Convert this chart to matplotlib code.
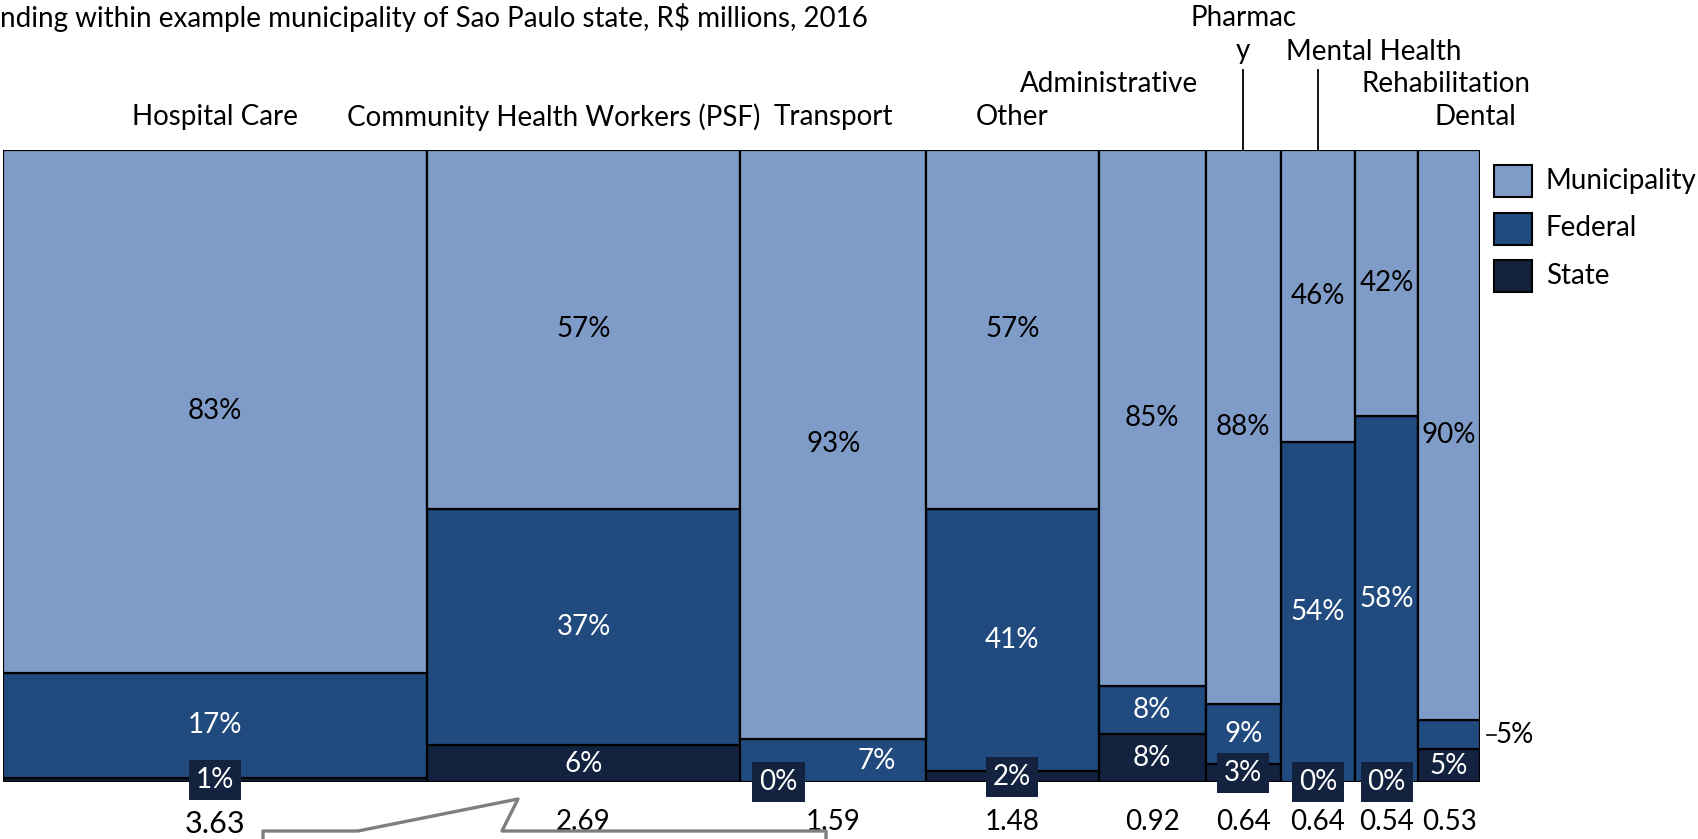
import numpy as np
import matplotlib.pyplot as plt
from matplotlib.patches import Rectangle

plt.rcParams['font.family'] = ['Lato', 'DejaVu Sans']

# Spending per category (R$ millions) and funding split (%)
categories = ["Hospital Care", "Community Health Workers (PSF)", "Transport", "Other",
              "Administrative", "Pharmac\ny", "Mental Health", "Rehabilitation", "Dental"]
totals = [3.63, 2.69, 1.59, 1.48, 0.92, 0.64, 0.64, 0.54, 0.53]
municipality = [82.7, 56.8, 93.2, 56.8, 84.8, 87.7, 46.2, 42.1, 90.2]
federal = [16.6, 37.3, 6.8, 41.4, 7.5, 9.4, 53.8, 57.9, 4.6]
state = [0.7, 5.9, 0.0, 1.8, 7.7, 2.9, 0.0, 0.0, 5.2]
series_names = ["Municipality", "Federal", "State"]

c_mun = "#7f9cc8"
c_fed = "#214a7e"
c_sta = "#13233f"

W, H = 1699, 839
fig = plt.figure(figsize=(W / 100, H / 100), dpi=100)
ax = fig.add_axes([3.3 / W, 1 - 782.3 / H, 1476.7 / W, 632.8 / H])

tot = np.array(totals)
left = np.concatenate([[0], np.cumsum(tot)[:-1]])
centers = left + tot / 2
shares = np.array([state, federal, municipality], dtype=float)
shares = shares / shares.sum(axis=0)

# stack bottom-up: state, federal, municipality
bottom = np.zeros(len(tot))
for vals, col in zip(shares, [c_sta, c_fed, c_mun]):
    ax.bar(left, vals, width=tot, bottom=bottom, align='edge', color=col,
           edgecolor='black', linewidth=1.6)
    bottom = bottom + vals

ax.set_xlim(0, tot.sum())
ax.set_ylim(0, 1)
ax.axis('off')

fs = 20
s_sta, s_fed, s_mun = shares
for i in range(len(tot)):
    # municipality
    ax.text(centers[i], s_sta[i] + s_fed[i] + s_mun[i] / 2, f"{municipality[i]:.0f}%",
            ha='center', va='center', fontsize=fs, color='black')
    # federal
    yf = s_sta[i] + s_fed[i] / 2
    if federal[i] < 5:
        ax.text(left[i] + tot[i] + 0.13, yf, f"{federal[i]:.0f}%", ha='left', va='center',
                fontsize=fs, color='black')
        ax.plot([left[i] + tot[i] + 0.06, left[i] + tot[i] + 0.14], [yf, yf], color='black',
                lw=1.2, clip_on=False)
    else:
        dx = 0.37 if categories[i] == "Transport" else 0
        ax.text(centers[i] + dx, yf, f"{federal[i]:.0f}%", ha='center', va='center',
                fontsize=fs, color='white')
    # state
    ys = s_sta[i] / 2
    if state[i] >= 5:
        ax.text(centers[i], ys, f"{state[i]:.0f}%", ha='center', va='center',
                fontsize=fs, color='white')
    else:
        dx = -0.47 if categories[i] == "Transport" else 0
        ax.text(centers[i] + dx, ys, f"{state[i]:.0f}%", ha='center', va='center',
                fontsize=fs, color='white', clip_on=False,
                bbox=dict(boxstyle='square,pad=0.25', fc=c_sta, ec='none'))

# totals under the columns
for i in range(len(tot)):
    big = i == 0
    ax.text(centers[i], -0.066 if big else -0.063, f"{totals[i]:.2f}", ha='center', va='center',
            fontsize=22 if big else fs, color='black', clip_on=False)

# category labels above (ha, anchor, offset, level)
label_layout = [
    ('center', 'c', 0.0, 1.051),
    ('center', 'c', -0.26, 1.051),
    ('center', 'c', 0.0, 1.051),
    ('center', 'c', 0.0, 1.051),
    ('right', 'r', -0.07, 1.104),
    ('center', 'c', 0.0, 1.182),
    ('left', 'l', 0.05, 1.154),
    ('left', 'l', 0.05, 1.104),
    ('right', 'r', 0.31, 1.051),
]
for i, (ha, anchor, dx, y) in enumerate(label_layout):
    x0 = {'c': centers[i], 'l': left[i], 'r': left[i] + tot[i]}[anchor]
    ax.text(x0 + dx, y, categories[i], ha=ha, va='center', fontsize=fs, clip_on=False,
            linespacing=1.35)
for i in [5, 6]:
    ax.plot([centers[i], centers[i]], [1.0, 1.125], color='black', lw=1.3, clip_on=False)

# legend
def px(x, y):
    return x / W, 1 - y / H

for k, (name, col) in enumerate(zip(series_names, [c_mun, c_fed, c_sta])):
    yc = 181 + k * 47.5
    x0, y0 = px(1494, yc + 16)
    fig.add_artist(Rectangle((x0, y0), 38 / W, 32 / H, transform=fig.transFigure,
                             facecolor=col, edgecolor='black', linewidth=1.5))
    fig.text(*px(1546, yc), name, ha='left', va='center', fontsize=fs)

# title (cut at the left edge)
fig.text(0, 1 - 18 / H, r"nding within example municipality of Sao Paulo state, R\$ millions, 2016",
         ha='left', va='center', fontsize=fs)

# grey callout outline at the bottom
pts = [(263, 841), (263, 831), (358, 831), (518, 799), (502, 831), (826, 831), (826, 841)]
fx = [p[0] / W for p in pts]
fy = [1 - p[1] / H for p in pts]
fig.add_artist(plt.Line2D(fx, fy, transform=fig.transFigure, color='#7f7f7f', lw=2.4))

plt.savefig("out.png", dpi=100)
